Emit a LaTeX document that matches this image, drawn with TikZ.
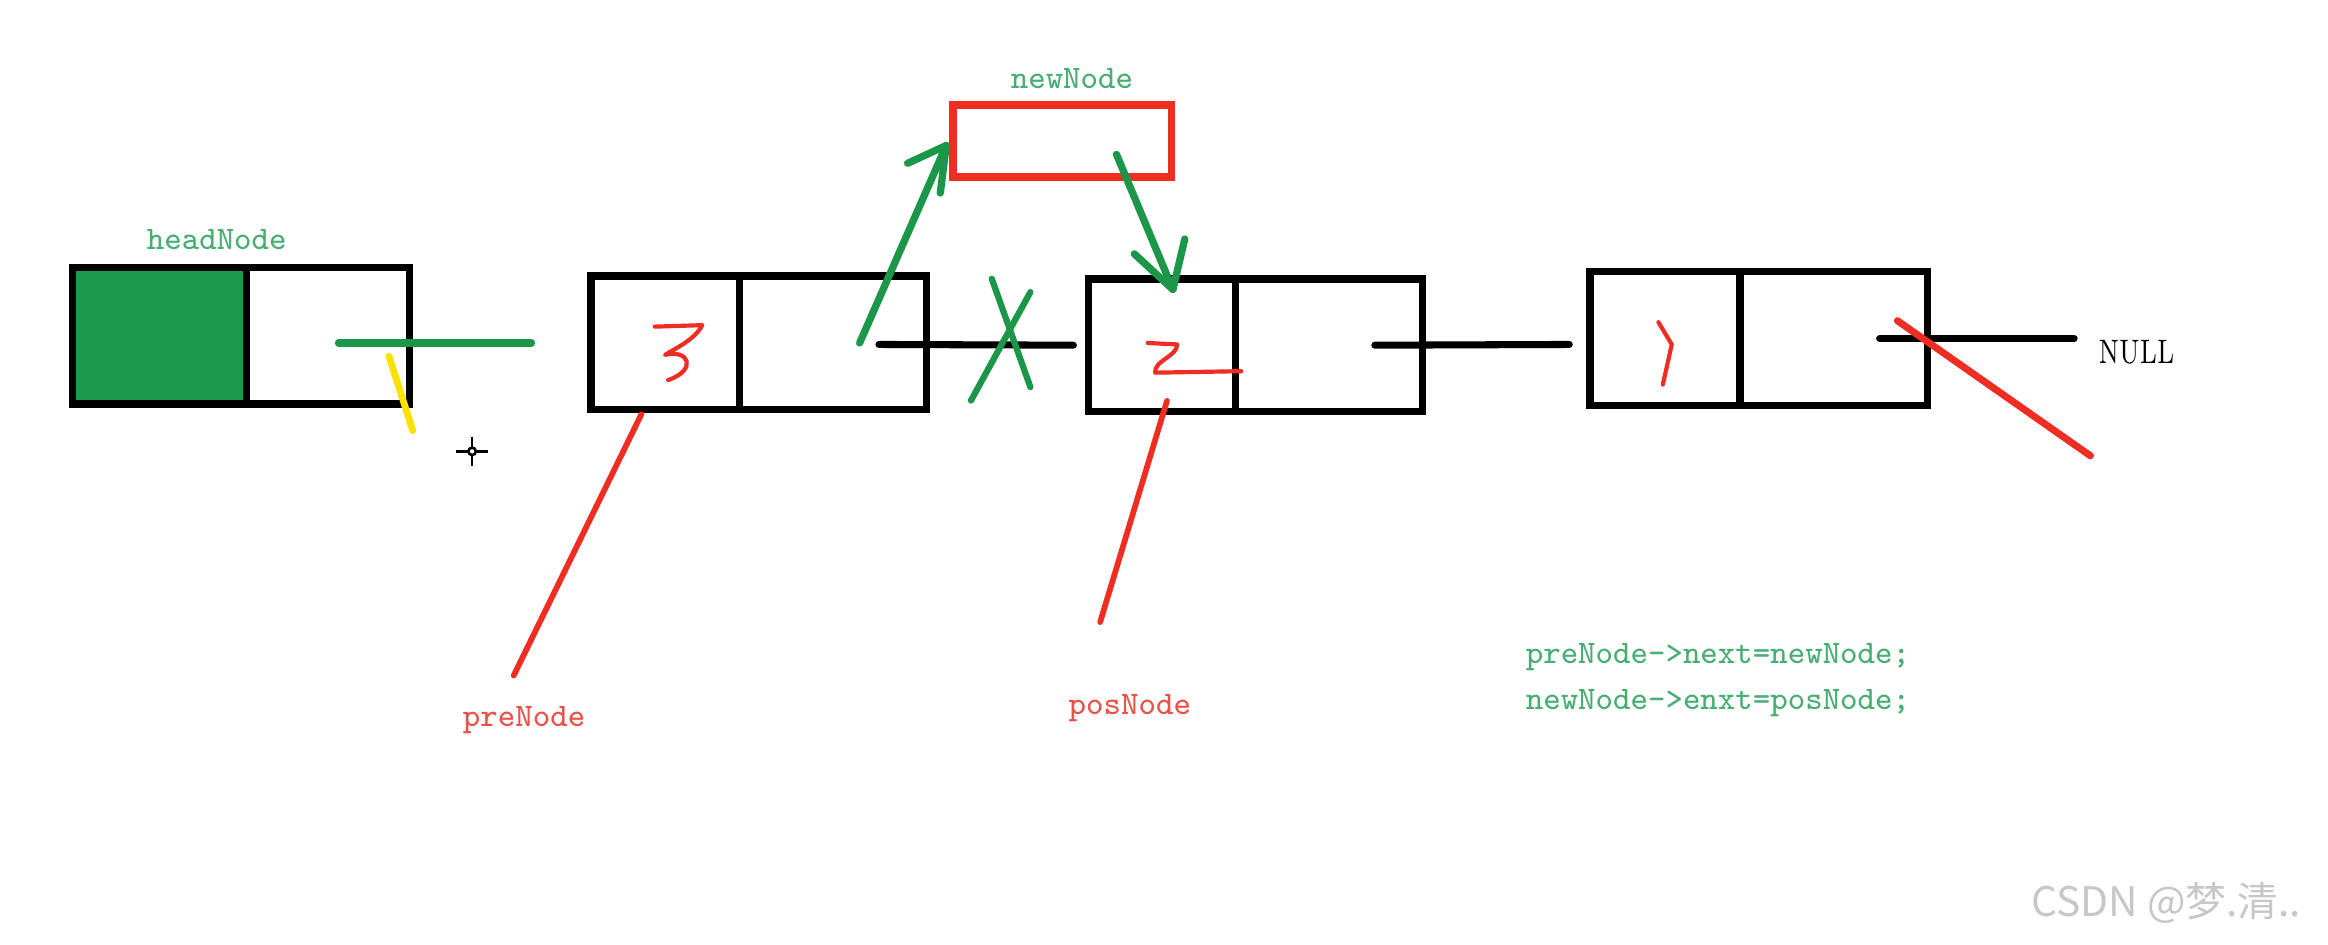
\documentclass[tikz,border=0pt]{standalone}
\usepackage{fontspec}
\usepackage{graphicx}
\newfontfamily\cjkfont{Noto Sans CJK SC}
\usetikzlibrary{calc}
\definecolor{gfill}{RGB}{26,155,75}
\definecolor{gline}{RGB}{28,150,72}
\definecolor{rline}{RGB}{240,45,35}
\definecolor{ylw}{RGB}{250,225,0}
\definecolor{gtext}{RGB}{72,174,114}
\definecolor{rtext}{RGB}{232,82,72}
\begin{document}
\begin{tikzpicture}[x=0.01cm,y=-0.01cm,
  cell/.style={draw=black,line width=1.4pt,inner sep=0pt,outer sep=0pt},
  lbl/.style={inner sep=0pt,font=\ttfamily\fontsize{6.3}{8.8}\selectfont},
  gl/.style={draw=gline,line width=1.4pt,line cap=round,line join=round},
  bl/.style={draw=black,line width=1.35pt,line cap=round},
  yl/.style={draw=ylw,line width=1.3pt,line cap=round},
  rl/.style={draw=rline,line width=1.1pt,line cap=round},
  rslash/.style={draw=rline,line width=1.35pt,line cap=round},
  dig/.style={draw=rline,line width=0.8pt,line cap=round,line join=round},
  crossh/.style={draw=black,line width=0.5pt}]
\fill[white] (0,0) rectangle (1568,636);
\useasboundingbox (0,0) rectangle (1568,636);

% list cells
\node[cell,fill=gfill,minimum width=1.17cm,minimum height=0.92cm] (hd) at (107.5,226) {};
\node[cell,minimum width=1.10cm,minimum height=0.92cm] (hn) at (221,226) {};
\node[cell,minimum width=1.00cm,minimum height=0.90cm] (ad) at (448,231) {};
\node[cell,minimum width=1.26cm,minimum height=0.90cm] (an) at (561,231) {};
\node[cell,minimum width=0.99cm,minimum height=0.89cm] (bd) at (782.5,232.5) {};
\node[cell,minimum width=1.26cm,minimum height=0.89cm] (bn) at (895,232.5) {};
\node[cell,minimum width=1.01cm,minimum height=0.90cm] (cd) at (1121.5,228) {};
\node[cell,minimum width=1.26cm,minimum height=0.90cm] (cn) at (1235,228) {};
\node[draw=rline,line width=1.5pt,minimum width=1.47cm,minimum height=0.48cm,inner sep=0pt] (nn) at (715.5,95) {};

% labels
\node[lbl,text=gtext] (hl) at (146,161) {headNode};
\node[lbl,text=gtext] (nl) at (722,53) {newNode};
\node[lbl,text=rtext] (pl) at (353,485) {preNode};
\node[lbl,text=rtext] (sl) at (761,477) {posNode};
\node[lbl,text=gtext,anchor=west,align=left] (code) at (1027,458) {preNode->next=newNode;\\newNode->enxt=posNode;};
\node[inner sep=0pt,font=\rmfamily\fontsize{6.5}{7}\selectfont] (nul) at (1439,237) {\scalebox{0.72}[1]{NULL}};
\node[inner sep=0pt,text=black!22,font=\cjkfont\fontsize{7.8}{9}\selectfont] (wm) at (1459,608) {CSDN @梦.清..};

% head -> first (green) and yellow mark
\coordinate (g1e) at (358,231);
\draw[gl] ($(hn.center)+(7,5)$) -- (g1e);
\draw[yl] ($(hn.south east)+(-14,-32)$) -- ($(hn.south east)+(2,18)$);

% black links
\draw[bl] ($(an.center)+(31,1)$) -- ($(bd.west)+(-10,0)$);
\draw[bl] ($(bn.center)+(31,0)$) -- ($(cd.west)+(-14,4)$);
\draw[bl] ($(cn.center)+(31,0)$) -- ($(cn.east)+(99,0)$);

% green X over old link
\coordinate (ab) at ($(an.east)!0.5!(bd.west)$);
\draw[gl,line width=1.2pt] ($(ab)+(-10.5,-44)$) -- ($(ab)+(15.5,29)$);
\draw[gl,line width=1.2pt] ($(ab)+(15.5,-35)$) -- ($(ab)+(-24.5,38)$);

% green arrows
\coordinate (t1) at ($(nn.west)+(-2,3)$);
\draw[gl] ($(an.center)+(18,0)$) -- (t1);
\draw[gl] ($(t1)+(-26,12)$) -- (t1) -- ($(t1)+(-4,32)$);
\coordinate (t2) at ($(bd.north)+(7.5,7)$);
\draw[gl] ($(nn.center)+(36.5,9)$) -- (t2);
\draw[gl] ($(t2)+(-26,-24)$) -- (t2) -- ($(t2)+(8,-34)$);

% red slash at tail
\draw[rslash] ($(cn.center)+(43,-12)$) -- ($(cn.center)+(173,79)$);

% red pointers
\coordinate (pe) at (346,455);
\draw[rl] ($(ad.south)+(-16,3)$) -- (pe);
\coordinate (se) at (741,419);
\draw[rl] ($(bd.south)+(3.5,-7)$) -- (se);

% handwritten digits
\draw[dig] ($(ad)+(-7,-11)$) -- ($(ad)+(25,-12)$)
  .. controls ($(ad)+(20,-2)$) and ($(ad)+(6,4)$) .. ($(ad)+(0,8)$)
  .. controls ($(ad)+(16,4)$) and ($(ad)+(22,18)$) .. ($(ad)+(2,25)$);
\draw[dig] ($(bd)+(-9.5,-1.5)$) -- ($(bd)+(10.5,-0.5)$)
  .. controls ($(bd)+(10,8)$) and ($(bd)+(-5,10)$) .. ($(bd)+(-4.5,18.5)$)
  -- ($(bd)+(53.5,17.5)$);
\draw[dig] ($(cd)+(-4.5,-11)$) -- ($(cd)+(4.5,4)$) -- ($(cd)+(-1.5,31)$);

% cursor crosshair
\coordinate (cur) at (318,304);
\draw[crossh] ($(cur)+(-11,0)$) -- ($(cur)+(-3,0)$);
\draw[crossh] ($(cur)+(3,0)$) -- ($(cur)+(11,0)$);
\draw[crossh] ($(cur)+(0,-10)$) -- ($(cur)+(0,-3)$);
\draw[crossh] ($(cur)+(0,3)$) -- ($(cur)+(0,10)$);
\draw[crossh] (cur) circle (2.5);
\end{tikzpicture}
\end{document}
